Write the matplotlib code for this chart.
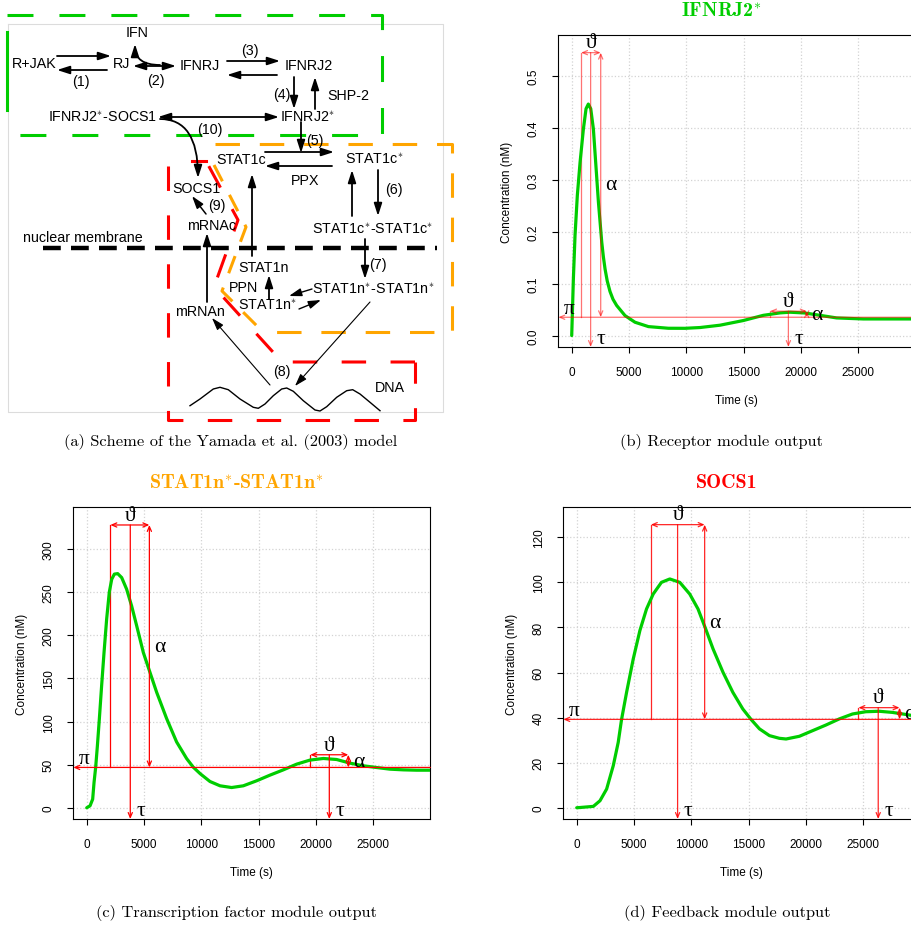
import matplotlib
matplotlib.use('Agg')
import matplotlib.pyplot as plt

plt.rcParams['font.family'] = ['Liberation Sans', 'DejaVu Sans']
plt.rcParams['mathtext.fontset'] = 'cm'

GREEN = '#00cd00'
ORANGE = '#ffa500'
RED = '#ff0000'
GREEK = ['Liberation Serif', 'DejaVu Serif']
W, H = 911, 929

# ---- module outputs: time (s) vs concentration (nM) ----
# receptor module, IFNRJ2*
t_rec = [0, 60, 145, 290, 490, 730, 1020, 1250, 1450, 1660, 1890, 2090, 2330,
         2620, 2760, 2910, 3100, 3340, 3600, 3920, 4650, 5520, 6690, 8430,
         9880, 11190, 12940, 14970, 16710, 18170, 19040, 20350, 21660, 23110,
         25440, 27500, 30000]
c_rec = [0.0, 0.045, 0.109, 0.193, 0.27, 0.334, 0.398, 0.437, 0.446, 0.437,
         0.398, 0.334, 0.257, 0.18, 0.152, 0.128, 0.105, 0.085, 0.07, 0.058,
         0.0385, 0.0257, 0.0173, 0.0141, 0.014, 0.0155, 0.02, 0.029, 0.039,
         0.0437, 0.045, 0.0435, 0.039, 0.034, 0.032, 0.032, 0.032]

# transcription factor module, STAT1n*-STAT1n*
t_tf = [0, 290, 520, 640, 780, 930, 1100, 1300, 1510, 1740, 1970, 2180, 2410,
        2700, 3050, 3480, 3920, 4360, 4940, 5520, 6100, 6970, 7840, 8720, 9300,
        9900, 10750, 11630, 12640, 13660, 14820, 15990, 17150, 18310, 19470,
        20640, 21800, 22960, 24130, 25290, 26450, 27620, 28780, 30000]
c_tf = [0, 2.3, 10, 29.5, 46.8, 71.7, 102.7, 141.4, 180, 219, 250, 265, 271,
        271.6, 267, 253.6, 234, 211, 180, 157, 134, 103.5, 76.4, 57, 47,
        39.5, 30.5, 25.5, 23.5, 25.5, 31.3, 37.9, 44, 50.6, 55.3, 57.2, 56,
        51.8, 48.7, 46.7, 44.8, 44, 43.6, 43.6]

# feedback module, SOCS1
t_fb = [0, 290, 1450, 2030, 2610, 3190, 3620, 3910, 4350, 4930, 5510, 6090,
        6670, 7390, 8120, 8990, 9860, 10580, 11250, 11890, 12760, 13620, 14490,
        15220, 15940, 16810, 17680, 18260, 19420, 20580, 21740, 22900, 24060,
        25220, 26380, 27530, 28690, 30000]
c_fb = [0, 0.1, 0.6, 3.1, 8.3, 18.7, 29, 39.1, 51.2, 66, 78.6, 88.2, 94.8,
        100, 101.5, 100, 94.8, 88.2, 79.3, 70.5, 60.1, 51.2, 43.8, 39.1, 35,
        32, 30.8, 30.5, 31.7, 34.2, 36.7, 39.4, 41.6, 42.6, 42.8, 42.3, 41.4,
        40.3]

# signal features: baseline pi, peak times tau, widths theta, bar levels
pi_rec, tau_rec = 0.0353, [1650, 18900]
theta_rec, bar_rec = [(814, 2529), (17300, 20500)], [0.545, 0.047]
pi_tf, tau_tf = 46.8, [3800, 21160]
theta_tf, bar_tf = [(2060, 5465), (19500, 22820)], [328, 61.5]
pi_fb, tau_fb = 39.2, [8800, 26300]
theta_fb, bar_fb = [(6465, 11160), (24570, 28160)], [125.6, 44.4]

yticks_rec = [0.0, 0.1, 0.2, 0.3, 0.4, 0.5]
yticks_tf = [0, 50, 100, 150, 200, 250, 300]
yticks_fb = [0, 20, 40, 60, 80, 100, 120]
xticks = [0, 5000, 10000, 15000, 20000, 25000]


def px_rect(left, top, width, height):
    return [left / W, 1 - (top + height) / H, width / W, height / H]


fig = plt.figure(figsize=(W / 100, H / 100), dpi=100)

# background axes in pixel units for the scheme, titles and captions
ax0 = fig.add_axes([0, 0, 1, 1])
ax0.set_xlim(0, W)
ax0.set_ylim(H, 0)
ax0.axis('off')


def module_plot(rect, t, conc, pi_lvl, taus, thetas, bars, ylim, yticks,
                yfmt, red_alpha):
    ax = fig.add_axes(rect)
    xlim = (-1170, 29970)
    ax.plot(t, conc, color=GREEN, lw=2.3, zorder=3, solid_capstyle='round',
            solid_joinstyle='round')
    ax.set_xlim(*xlim)
    ax.set_ylim(*ylim)
    ax.set_xticks(xticks)
    ax.set_xticklabels([str(v) for v in xticks])
    ax.set_yticks(yticks)
    ax.set_yticklabels([yfmt.format(v) for v in yticks])
    ax.grid(True, color='#d3d3d3', ls=':', lw=0.9)
    for s in ax.spines.values():
        s.set_linewidth(0.8)
    ax.tick_params(length=4.5, width=0.8, pad=9, labelsize=8.5)
    ax.tick_params(axis='y', labelrotation=90)
    for lab in ax.get_yticklabels():
        lab.set_va('center')
    ax.set_xlabel('Time (s)', fontsize=8.5)
    ax.set_ylabel('Concentration (nM)', fontsize=8.5)
    ax.xaxis.set_label_coords(0.5, -0.171)
    ax.xaxis.label.set_va('center')
    ax.yaxis.set_label_coords(-0.1445, 0.5)
    ax.yaxis.label.set_va('center')

    kw = dict(color=RED, lw=0.9, alpha=red_alpha)
    head = ',head_length=0.35,head_width=0.15'

    def red_arrow(p0, p1, style):
        ax.annotate('', xy=p1, xytext=p0,
                    arrowprops=dict(arrowstyle=style + head, shrinkA=0,
                                    shrinkB=0, **kw))

    gk = dict(textcoords='offset points', ha='center', va='center',
              fontsize=15.5, family=GREEK)
    y0 = ylim[0]
    red_arrow((xlim[1], pi_lvl), (xlim[0], pi_lvl), '->')
    ax.annotate('π', xy=(xlim[0], pi_lvl), xytext=(7.5, 6.5), **gk)
    for tau, (ta, tb), bar in zip(taus, thetas, bars):
        ax.plot([ta, ta], [pi_lvl, bar], **kw)
        red_arrow((ta, bar), (tb, bar), '<->')
        red_arrow((tb, bar), (tb, pi_lvl), '<->')
        red_arrow((tau, bar), (tau, y0), '->')
        ax.annotate('ϑ', xy=(tau, bar), xytext=(0, 7), **gk)
        ax.annotate('τ', xy=(tau, y0), xytext=(7.5, 6.3), **gk)
        ax.annotate('α', xy=(tb, (pi_lvl + bar) / 2), xytext=(3.5, 0),
                    textcoords='offset points', ha='left', va='center',
                    fontsize=15.5, family=GREEK)
    return ax


module_plot(px_rect(558.3, 36, 357, 312), t_rec, c_rec, pi_rec, tau_rec,
            theta_rec, bar_rec, (-0.022, 0.579), yticks_rec, '{:.1f}', 0.55)
module_plot(px_rect(73.3, 508.3, 357, 311.7), t_tf, c_tf, pi_tf, tau_tf,
            theta_tf, bar_tf, (-13, 348.5), yticks_tf, '{:d}', 1.0)
module_plot(px_rect(563.3, 508.3, 357, 311.7), t_fb, c_fb, pi_fb, tau_fb,
            theta_fb, bar_fb, (-5, 133.3), yticks_fb, '{:d}', 0.85)

# panel titles and captions
tk = dict(family='cmb10', fontsize=14.4, ha='center', va='center')
ax0.text(721.7, 12, 'IFNRJ2$^{*}$', color=GREEN, **tk)
ax0.text(236.7, 483.3, 'STAT1n$^{*}$-STAT1n$^{*}$', color=ORANGE, **tk)
ax0.text(726.7, 483.3, 'SOCS1', color=RED, **tk)
ck = dict(family='cmr10', fontsize=11.8, ha='center', va='center')
ax0.text(230.3, 442.3, '(a) Scheme of the Yamada et al. (2003) model', **ck)
ax0.text(721.7, 441.7, '(b) Receptor module output', **ck)
ax0.text(236.7, 913.3, '(c) Transcription factor module output', **ck)
ax0.text(726.7, 913.3, '(d) Feedback module output', **ck)

# ---- scheme of the pathway ----
ax0.plot([8, 443, 443, 8, 8], [25, 25, 413, 413, 25], color='#dcdcdc', lw=0.8)

box = dict(lw=2.2, ls=(0, (8.5, 8.5)), solid_capstyle='butt')
ax0.plot([7, 382, 382, 10], [15.7, 15.7, 136, 136], color=GREEN, **box)
ax0.plot([7, 7], [33, 111], color=GREEN, lw=2.2)
ax0.plot([215, 452, 452, 263], [145, 145, 333, 333], color=ORANGE, lw=2.2,
         ls=(0, (8, 6.5)))
ax0.plot([214, 246, 222, 263], [166, 228, 292, 333], color=ORANGE, lw=2.2,
         ls=(0, (6, 5)))
ax0.plot([415, 282, 214, 238, 206], [363, 363, 288, 221, 162],
         color=RED, lw=2.2, ls=(0, (8, 8)))
ax0.plot([192, 206], [162, 162], color=RED, lw=2.2)
ax0.plot([168, 168, 415, 415], [167, 421, 421, 363],
         color=RED, lw=2.2, ls=(0, (8, 8)))

# nuclear membrane
ax0.plot([43, 437], [249.3, 249.3], color='black', lw=3.2, ls=(0, (4, 2.3)))
ax0.text(23, 238, 'nuclear membrane', fontsize=10.3, ha='left', va='center')

species = [
    ('IFN', 137.5, 33), ('R+JAK', 34.7, 64), ('RJ', 121.7, 64),
    ('IFNRJ', 200, 66), ('IFNRJ2', 309, 66), ('SHP-2', 348, 96),
    ('IFNRJ2$^{*}$-SOCS1', 102.5, 118), ('IFNRJ2$^{*}$', 307.7, 118),
    ('STAT1c', 241, 160), ('STAT1c$^{*}$', 374, 160), ('PPX', 305.5, 180.5),
    ('SOCS1', 196.7, 189), ('mRNAc', 211.7, 226),
    ('STAT1c$^{*}$-STAT1c$^{*}$', 372.8, 230), ('STAT1n', 264, 268),
    ('PPN', 243.7, 288), ('STAT1n$^{*}$-STAT1n$^{*}$', 373, 290),
    ('STAT1n$^{*}$', 267.5, 306), ('mRNAn', 200, 312), ('DNA', 389.5, 388),
]
for name, x, y in species:
    ax0.text(x, y, name, fontsize=10.3, ha='center', va='center')

steps = [
    ('(1)', 80.5, 82), ('(2)', 156, 81), ('(3)', 250, 51), ('(4)', 282, 95),
    ('(5)', 314.7, 141), ('(6)', 394, 190), ('(7)', 378, 265),
    ('(8)', 282, 372), ('(9)', 217, 206), ('(10)', 210, 130),
]
for name, x, y in steps:
    ax0.text(x, y, name, fontsize=10.3, ha='center', va='center')


def black_arrow(p0, p1, style='-|>', lw=1.3, conn='arc3'):
    ax0.annotate('', xy=p1, xytext=p0,
                 arrowprops=dict(arrowstyle=style + ',head_length=0.75,head_width=0.24',
                                 color='black', lw=lw, shrinkA=0, shrinkB=0,
                                 connectionstyle=conn))


black_arrow((57, 57), (111, 57))
black_arrow((107, 71), (57, 71))
black_arrow((133, 67), (176, 67), '<|-|>')
black_arrow((160, 66), (135, 45), conn='angle3,angleA=0,angleB=90')
black_arrow((227, 62), (280, 62))
black_arrow((277, 76), (227, 76))
black_arrow((294, 78), (294, 110))
black_arrow((315, 110), (315, 78))
black_arrow((158, 118), (279, 118), '<|-|>')
black_arrow((160, 120), (198, 179), conn='angle3,angleA=0,angleB=90')
black_arrow((301, 123), (301, 154))
black_arrow((265, 153), (334, 153))
black_arrow((332, 167), (265, 167))
black_arrow((378, 171), (378, 217))
black_arrow((352, 217), (352, 171))
black_arrow((252, 257), (252, 175))
black_arrow((206, 215), (192, 197), lw=1.1)
black_arrow((207, 303), (207, 234))
black_arrow((365, 240), (365, 280))
black_arrow((269, 300), (269, 276))
black_arrow((312, 290), (289, 297), lw=1.0)
black_arrow((299, 310), (321, 301), lw=1.0)
black_arrow((370, 303), (295, 387), lw=0.8)
black_arrow((270, 386), (212, 319), lw=0.8)

# DNA strand
dna_x = [190, 200, 213.3, 220, 228.3, 240, 253.3, 258.3, 265, 273.3, 281.7,
         286.7, 293.3, 303.3, 315, 320, 326.7, 336.7, 346.7, 352.7, 360, 370, 380]
dna_y = [406.7, 400, 390, 388.3, 390.7, 400, 408.3, 409.3, 405, 396.7, 390,
         389, 392.3, 401.7, 411, 412, 407.7, 398.3, 391.7, 390.7, 395, 403.3, 411.7]
ax0.plot(dna_x, dna_y, color='black', lw=1.0)

fig.savefig('out.png', dpi=100)
